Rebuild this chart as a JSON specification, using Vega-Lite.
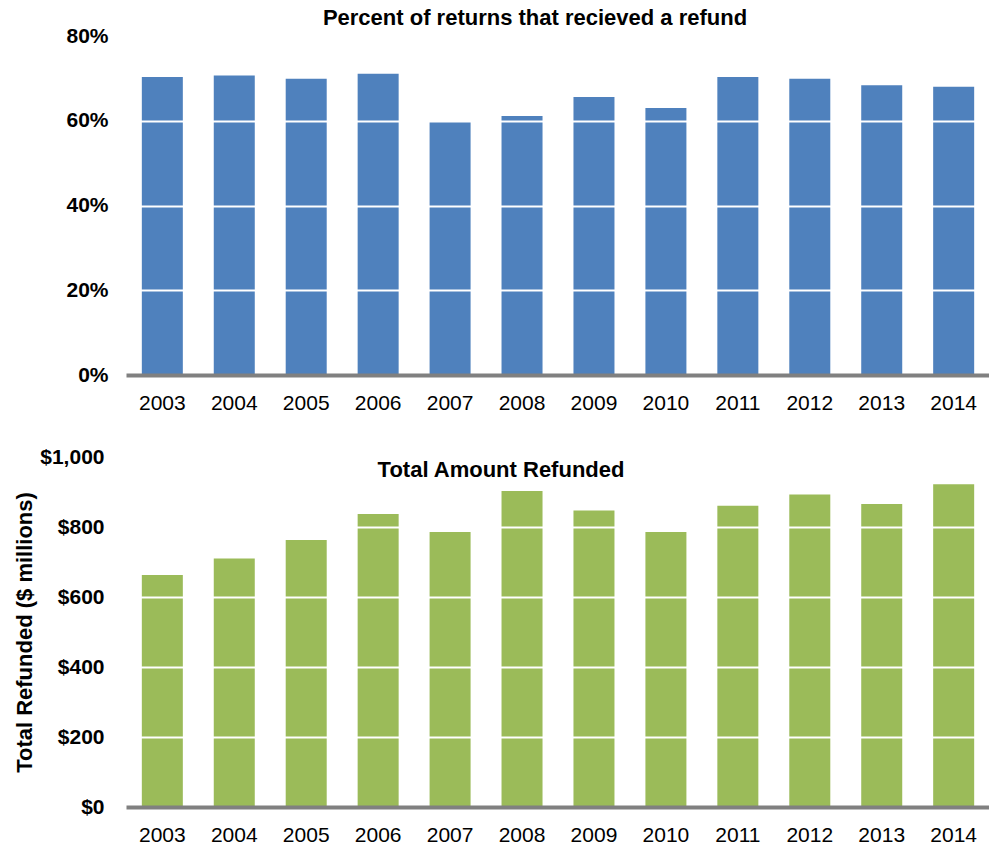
{
  "$schema": "https://vega.github.io/schema/vega-lite/v6.json",
  "padding": {"left": 13, "top": 7, "right": 0, "bottom": 0},
  "spacing": 33,
  "config": {
    "font": "Liberation Sans",
    "view": {"stroke": null},
    "axis": {
      "labelFont": "Liberation Sans",
      "labelColor": "#000000",
      "labelFontSize": 21,
      "ticks": false,
      "domain": false,
      "gridColor": "#ffffff",
      "gridWidth": 2
    },
    "axisX": {
      "labelAngle": 0,
      "labelPadding": 17,
      "grid": false,
      "domain": true,
      "domainColor": "#808080",
      "domainWidth": 4,
      "title": null
    },
    "axisY": {
      "labelFontWeight": "bold",
      "labelPadding": 20,
      "grid": true
    },
    "title": {"font": "Liberation Sans", "fontSize": 22, "fontWeight": "bold", "color": "#000000"}
  },
  "vconcat": [
    {
      "width": 864,
      "height": 339,
      "title": {"text": "Percent of returns that recieved a refund", "offset": -5, "dx": -23},
      "data": {"values": [
        {"year": "2003", "pct": 70.3},
        {"year": "2004", "pct": 70.7},
        {"year": "2005", "pct": 69.9},
        {"year": "2006", "pct": 71.1},
        {"year": "2007", "pct": 59.9},
        {"year": "2008", "pct": 61.1},
        {"year": "2009", "pct": 65.6},
        {"year": "2010", "pct": 63.0},
        {"year": "2011", "pct": 70.3},
        {"year": "2012", "pct": 69.9},
        {"year": "2013", "pct": 68.4},
        {"year": "2014", "pct": 68.0}
      ]},
      "mark": {"type": "bar", "color": "#4F81BD"},
      "encoding": {
        "x": {"field": "year", "type": "ordinal", "scale": {"paddingInner": 0.43, "paddingOuter": 0.22}, "axis": {"title": null, "zindex": 2}},
        "y": {"field": "pct", "type": "quantitative", "scale": {"domain": [0, 80]},
          "axis": {"title": null, "zindex": 1, "labelPadding": 18, "values": [0, 20, 40, 60, 80], "labelExpr": "datum.value + '%'"}}
      }
    },
    {
      "width": 864,
      "height": 350,
      "title": {"text": "Total Amount Refunded", "offset": -36, "dx": -57},
      "data": {"values": [
        {"year": "2003", "amount": 663},
        {"year": "2004", "amount": 710},
        {"year": "2005", "amount": 763},
        {"year": "2006", "amount": 837},
        {"year": "2007", "amount": 786},
        {"year": "2008", "amount": 903},
        {"year": "2009", "amount": 847},
        {"year": "2010", "amount": 786},
        {"year": "2011", "amount": 861},
        {"year": "2012", "amount": 893},
        {"year": "2013", "amount": 866},
        {"year": "2014", "amount": 922}
      ]},
      "mark": {"type": "bar", "color": "#9BBB59"},
      "encoding": {
        "x": {"field": "year", "type": "ordinal", "scale": {"paddingInner": 0.43, "paddingOuter": 0.22}, "axis": {"title": null, "zindex": 2}},
        "y": {"field": "amount", "type": "quantitative", "scale": {"domain": [0, 1000]},
          "axis": {"title": "Total Refunded ($ millions)", "zindex": 1, "titleFontSize": 22, "titleFontWeight": "bold", "titleColor": "#000000", "titleFont": "Liberation Sans", "titlePadding": 3,
            "values": [0, 200, 400, 600, 800, 1000], "format": "$,.0f", "labelPadding": 22}}
      }
    }
  ]
}
